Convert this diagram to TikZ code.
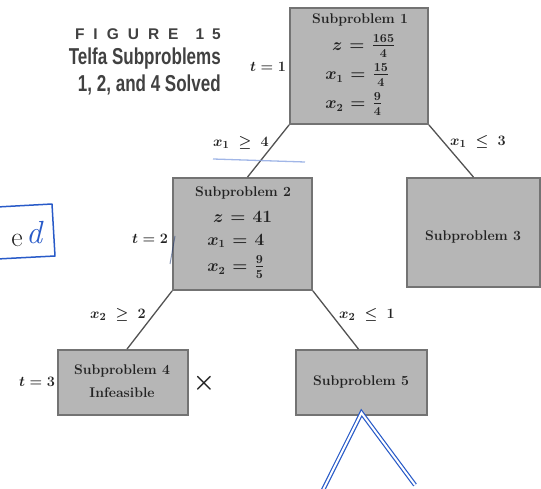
\documentclass[tikz,border=0pt]{standalone}
\usepackage{amsmath}
\usepackage{graphicx}
\usepackage{fontspec}
\newfontfamily\capfont{Liberation Sans}
\usetikzlibrary{calc}
\definecolor{boxfill}{RGB}{182,182,182}
\definecolor{boxline}{RGB}{115,115,115}
\definecolor{ink}{RGB}{35,35,35}
\definecolor{capink}{RGB}{65,65,65}
\definecolor{handblue}{RGB}{40,90,200}
\newcommand\eqln[2]{\makebox[24pt][r]{$#1$}\hspace{7pt}$=$\hspace{7pt}\makebox[24pt][l]{#2}}
\newcommand\bigfr[2]{\scalebox{1.12}{$\frac{#1}{#2}$}}
\tikzset{
  sbox/.style={draw=boxline, fill=boxfill, line width=1.8pt, inner sep=0pt},
  boxtext/.style={text=ink, font=\fontsize{14}{16}\selectfont\bfseries\boldmath, inner sep=0pt},
  eqtext/.style={text=ink, font=\fontsize{16}{18}\selectfont\bfseries\boldmath, inner sep=0pt},
  lab/.style={text=ink, font=\fontsize{15}{17}\selectfont\boldmath, inner sep=0pt},
  tlab/.style={text=ink, font=\fontsize{14}{16}\selectfont\boldmath, inner sep=0pt},
  link/.style={draw=black!68, line width=1.3pt},
  caption/.style={text=capink, font=\capfont\bfseries, inner sep=0pt, anchor=east},
  hand/.style={draw=handblue, line width=1.5pt, line cap=round, line join=round}
}
\begin{document}
\begin{tikzpicture}[x=1pt,y=-1pt]
\useasboundingbox (0,0) rectangle (541,489);

% caption
\node[caption, font=\capfont\bfseries\fontsize{15.5}{17}\selectfont] (cap1) at (221,34)
  {F\hspace{9pt}I\hspace{9pt}G\hspace{9pt}U\hspace{9pt}R\hspace{9pt}E\hspace{17pt}1\hspace{8pt}5};
\node[caption, font=\capfont\bfseries\fontsize{23}{25}\selectfont] (cap2) at (221,59)
  {\scalebox{0.74}[1]{Telfa Subproblems}};
\node[caption, font=\capfont\bfseries\fontsize{23}{25}\selectfont] (cap3) at (221,85)
  {\scalebox{0.74}[1]{1, 2, and 4 Solved}};

% boxes
\node[sbox, minimum width=138pt, minimum height=116pt] (b1) at (359,66) {};
\node[sbox, minimum width=139pt, minimum height=112pt] (b2) at (242.5,234) {};
\node[sbox, minimum width=133pt, minimum height=109pt] (b3) at (473.5,232.5) {};
\node[sbox, minimum width=130pt, minimum height=65pt] (b4) at (123,382.5) {};
\node[sbox, minimum width=131pt, minimum height=65pt] (b5) at (361.5,382.5) {};

% box texts
\node[boxtext] (b1t) at (360,20) {Subproblem 1};
\node[eqtext] (b1z) at (357,46) {\eqln{z}{\bigfr{165}{4}}};
\node[eqtext] (b1x) at (358,75) {\eqln{x_1}{\bigfr{15}{4}}};
\node[eqtext] (b1y) at (358,104) {\eqln{x_2}{\bigfr{9}{4}}};

\node[boxtext] (b2t) at (243,193) {Subproblem 2};
\node[eqtext] (b2z) at (238,217) {\eqln{z}{$41$}};
\node[eqtext] (b2x) at (240,241) {\eqln{x_1}{$4$}};
\node[eqtext] (b2y) at (240,267) {\eqln{x_2}{\bigfr{9}{5}}};

\node[boxtext] (b3t) at (473,237) {Subproblem 3};
\node[boxtext] (b4t) at (122,371) {Subproblem 4};
\node[boxtext] (b4u) at (122,393) {Infeasible};
\node[boxtext] (b5t) at (361,382) {Subproblem 5};

\node[text=ink, font=\fontsize{24}{24}\selectfont\boldmath, inner sep=0pt] (cross) at (204,383) {$\times$};

% connectors
\draw[link] (b1.south west) -- ([xshift=5pt]b2.north);
\draw[link] (b1.south east) -- (b3.north);
\draw[link] (b2.south west) -- ([xshift=4pt]b4.north);
\draw[link] (b2.south east) -- ([xshift=-3pt]b5.north);

% branch labels
\node[lab] (l1) at (241,143) {$x_1\;\geq\;4$};
\node[lab] (l2) at (478,142) {$x_1\;\leq\;3$};
\node[lab] (l3) at (118,315) {$x_2\;\geq\;2$};
\node[lab] (l4) at (367,315) {$x_2\;\leq\;1$};

% t labels
\node[tlab] (t1) at (268,67) {$t = 1$};
\node[tlab] (t2) at (150,239) {$t = 2$};
\node[tlab] (t3) at (37,382) {$t = 3$};

% hand annotations
\draw[hand] (-3,207) -- (52,204) -- (55,256) -- (-3,259);
\node[text=ink, font=\fontsize{28}{28}\selectfont, inner sep=0pt] (he) at (17,240) {e};
\node[text=handblue, font=\fontsize{32}{32}\selectfont\itshape, inner sep=0pt] (hd) at (34,233) {d};
\draw[handblue!55, line width=1.3pt, opacity=0.8] (213,159) -- (305,162);
\draw[black!45!handblue, line width=1pt, opacity=0.5] (175,236) -- (170,264);
\coordinate (va) at (322,492);
\coordinate (vb) at (415,485);
\draw[draw=handblue, line width=1.2pt, double=white, double distance=2pt, line join=miter] (va) -- ([yshift=3pt]b5.south) -- (vb);
\end{tikzpicture}
\end{document}
